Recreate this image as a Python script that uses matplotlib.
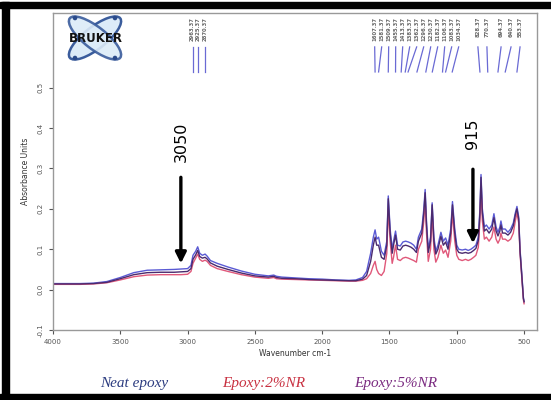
import numpy as np
import matplotlib
matplotlib.use("Agg")
import matplotlib.pyplot as plt
from matplotlib.patches import Ellipse, Rectangle, Circle

# wavenumber grid (cm-1)
wavenumber = [4000, 3900, 3800, 3700, 3600, 3500, 3400, 3300, 3200, 3100,
              3050, 3000, 2975, 2960, 2940, 2925, 2910, 2890, 2870, 2855,
              2830, 2780, 2700, 2600, 2500, 2400, 2360, 2340, 2300, 2200,
              2100, 2000, 1900, 1800, 1750, 1700, 1670, 1640, 1620, 1607,
              1595, 1581, 1560, 1540, 1520, 1509, 1495, 1480, 1470, 1455,
              1440, 1420, 1400, 1380, 1360, 1340, 1320, 1300, 1285, 1260,
              1245, 1235, 1225, 1212, 1195, 1183, 1170, 1156, 1140, 1118,
              1100, 1083, 1065, 1045, 1032, 1015, 1000, 985, 960, 935,
              915, 895, 875, 858, 840, 828, 820, 810, 795, 780,
              760, 740, 724, 708, 694, 680, 672, 660, 640, 620,
              600, 580, 565, 553, 540, 530, 515, 505, 500]

neat_epoxy = [0.015, 0.015, 0.015, 0.016, 0.020, 0.030, 0.042, 0.048, 0.049, 0.050,
              0.051, 0.052, 0.060, 0.085, 0.095, 0.106, 0.090, 0.085, 0.088, 0.083,
              0.072, 0.065, 0.056, 0.046, 0.038, 0.034, 0.036, 0.033, 0.031, 0.029,
              0.027, 0.026, 0.024, 0.023, 0.024, 0.030, 0.045, 0.090, 0.130, 0.148,
              0.125, 0.130, 0.095, 0.085, 0.120, 0.232, 0.150, 0.100, 0.120, 0.145,
              0.110, 0.108, 0.118, 0.120, 0.118, 0.115, 0.110, 0.100, 0.130, 0.150,
              0.200, 0.248, 0.170, 0.100, 0.130, 0.215, 0.130, 0.095, 0.110, 0.142,
              0.120, 0.128, 0.110, 0.150, 0.218, 0.150, 0.110, 0.100, 0.098, 0.100,
              0.097, 0.100, 0.105, 0.110, 0.130, 0.200, 0.285, 0.200, 0.155, 0.160,
              0.150, 0.160, 0.188, 0.155, 0.142, 0.155, 0.170, 0.150, 0.150, 0.142,
              0.150, 0.165, 0.190, 0.206, 0.180, 0.100, 0.030, -0.020, -0.030]

epoxy_2nr = [0.013, 0.013, 0.013, 0.014, 0.017, 0.024, 0.032, 0.036, 0.037, 0.037,
             0.037, 0.038, 0.045, 0.065, 0.078, 0.088, 0.075, 0.070, 0.073, 0.070,
             0.060, 0.052, 0.045, 0.037, 0.031, 0.028, 0.030, 0.027, 0.026, 0.025,
             0.024, 0.023, 0.022, 0.021, 0.021, 0.023, 0.027, 0.040, 0.060, 0.070,
             0.050, 0.040, 0.035, 0.045, 0.090, 0.200, 0.120, 0.065, 0.080, 0.110,
             0.075, 0.072, 0.078, 0.080, 0.078, 0.075, 0.072, 0.068, 0.100, 0.120,
             0.170, 0.222, 0.140, 0.070, 0.100, 0.190, 0.100, 0.068, 0.080, 0.110,
             0.090, 0.098, 0.080, 0.120, 0.190, 0.120, 0.085, 0.075, 0.072, 0.075,
             0.072, 0.075, 0.080, 0.085, 0.105, 0.170, 0.255, 0.170, 0.125, 0.130,
             0.120, 0.130, 0.155, 0.125, 0.115, 0.125, 0.140, 0.125, 0.125, 0.120,
             0.125, 0.140, 0.170, 0.190, 0.165, 0.090, 0.020, -0.025, -0.035]

epoxy_5nr = [0.014, 0.014, 0.014, 0.015, 0.018, 0.027, 0.037, 0.042, 0.043, 0.043,
             0.044, 0.045, 0.052, 0.075, 0.086, 0.097, 0.082, 0.078, 0.080, 0.076,
             0.066, 0.058, 0.050, 0.041, 0.034, 0.031, 0.033, 0.030, 0.028, 0.027,
             0.025, 0.024, 0.023, 0.022, 0.022, 0.026, 0.035, 0.070, 0.110, 0.130,
             0.110, 0.110, 0.080, 0.075, 0.110, 0.225, 0.140, 0.090, 0.110, 0.135,
             0.100, 0.098, 0.108, 0.110, 0.108, 0.105, 0.100, 0.092, 0.120, 0.140,
             0.190, 0.240, 0.160, 0.092, 0.120, 0.210, 0.120, 0.088, 0.100, 0.132,
             0.110, 0.118, 0.100, 0.140, 0.210, 0.140, 0.100, 0.092, 0.090, 0.092,
             0.090, 0.092, 0.097, 0.102, 0.122, 0.190, 0.278, 0.190, 0.145, 0.150,
             0.140, 0.150, 0.178, 0.145, 0.133, 0.145, 0.160, 0.140, 0.140, 0.135,
             0.142, 0.158, 0.185, 0.200, 0.175, 0.095, 0.025, -0.022, -0.030]

series_names = ["Neat epoxy", "Epoxy:2%NR", "Epoxy:5%NR"]
line_colors = ["#5a5ad4", "#e0587a", "#4a2a6e"]
text_colors = ["#2c3c80", "#c83040", "#7a2a80"]

# peak picking marks at the top of the spectrum
peak_labels = [2963, 2925, 2870,
               1610, 1558, 1506, 1454, 1402, 1350, 1298, 1246, 1194, 1142, 1090, 1038, 986,
               843, 776, 671, 597, 530]
peak_marks = [2963, 2925, 2870,
              1607, 1581, 1509, 1455, 1413, 1383, 1362, 1296, 1230, 1182, 1106, 1083, 1034,
              828, 770, 694, 640, 553]

arrow_wn = [3050, 880]
arrow_text = ["3050", "915"]
arrow_top = [0.285, 0.305]
arrow_tip = [0.058, 0.108]
text_y = [0.367, 0.385]

fig = plt.figure(figsize=(5.51, 4.0), dpi=100)
ax = fig.add_axes([53 / 551, 70 / 400, 484 / 551, 317 / 400])

ax.plot(wavenumber, neat_epoxy, color=line_colors[0], lw=1.0)
ax.plot(wavenumber, epoxy_2nr, color=line_colors[1], lw=1.0)
ax.plot(wavenumber, epoxy_5nr, color=line_colors[2], lw=1.0)

ax.set_xlim(4000, 404)
ax.set_ylim(-0.1, 0.685)
ax.set_xticks([4000, 3500, 3000, 2500, 2000, 1500, 1000, 500])
ax.set_yticks([-0.1, 0.0, 0.1, 0.2, 0.3, 0.4, 0.5])
ax.set_yticklabels(["-0.1", "0.0", "0.1", "0.2", "0.3", "0.4", "0.5"], rotation=90, va="center")
ax.tick_params(labelsize=5, colors="#555", length=3, width=0.8)
for s in ax.spines.values():
    s.set_color("#999")
    s.set_linewidth(1.0)
ax.set_xlabel("Wavenumber cm-1", fontsize=5.5, color="#333", labelpad=3)
ax.set_ylabel("Absorbance Units", fontsize=5.5, color="#333", labelpad=6)

for wn, txt, y0, y1, ty in zip(arrow_wn, arrow_text, arrow_top, arrow_tip, text_y):
    ax.annotate("", xy=(wn, y1), xytext=(wn, y0),
                arrowprops=dict(arrowstyle="-|>", lw=2.4, color="black", mutation_scale=16))
    ax.text(wn, ty, txt, rotation=90, ha="center", va="center", fontsize=11.5, color="black")

trans = ax.get_xaxis_transform()
for lab, pk in zip(peak_labels, peak_marks):
    ax.text(lab, 0.988, "%.2f" % (pk + 0.37), rotation=90, ha="center", va="top",
            fontsize=3.8, fontweight="bold", color="#666", transform=trans)
    ax.plot([lab, pk], [0.893, 0.814], color="#6a6ad4", lw=0.9, transform=trans)

# Bruker logo
lg = fig.add_axes([55 / 551, 337 / 400, 82 / 551, 50 / 400])
lg.set_xlim(0, 82)
lg.set_ylim(0, 50)
lg.axis("off")
lg.add_patch(Ellipse((40, 25), 64, 22, angle=38, facecolor="#dcebf8", edgecolor="#3a5c9c", lw=1.8))
lg.add_patch(Ellipse((40, 25), 64, 22, angle=-38, facecolor="#dcebf8", edgecolor="#3a5c9c", lw=1.8, alpha=0.9))
for cx, cy in [(20, 45), (60, 5), (20, 5), (60, 45)]:
    lg.add_patch(Circle((cx, cy), 1.6, color="#2a4a8a"))
lg.text(41, 24, "BRUKER", ha="center", va="center", fontsize=8.5, fontweight="bold", color="#111")

# legend text below the axes
leg_x = [134, 264, 396]
for name, col, x in zip(series_names, text_colors, leg_x):
    fig.text(x / 551, 16 / 400, name, ha="center", va="center", fontsize=11,
             style="italic", family="Liberation Serif", color=col)

# black frame around the picture
fig.patches.append(Rectangle((0, 392 / 400), 1, 6 / 400, transform=fig.transFigure, color="black"))
fig.patches.append(Rectangle((2 / 551, 0), 7 / 551, 398 / 400, transform=fig.transFigure, color="black"))
fig.patches.append(Rectangle((0, 0), 1, 6 / 400, transform=fig.transFigure, color="black"))

fig.savefig("out.png", dpi=100)
